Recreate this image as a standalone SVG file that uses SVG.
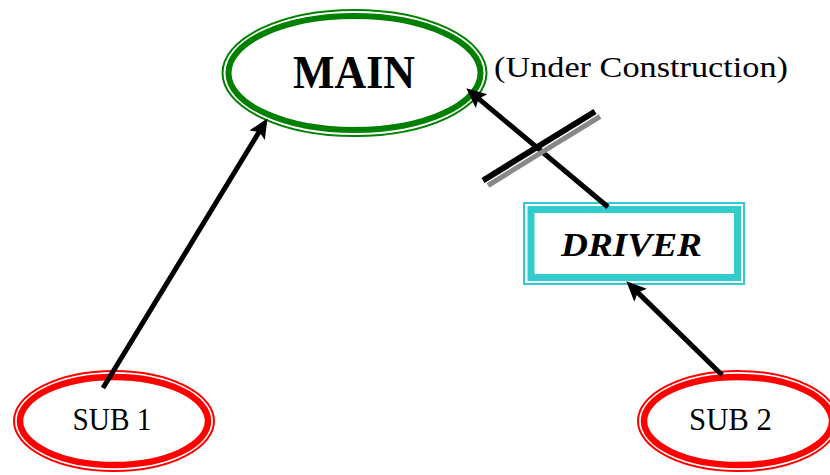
<svg xmlns="http://www.w3.org/2000/svg" width="830" height="475" viewBox="0 0 830 475">
<style>
.txt{font-family:"Liberation Serif","Times New Roman",serif;fill:#000}
.green{fill:none;stroke:#008000}
.red{fill:none;stroke:#ff0000}
.cyan{fill:none;stroke:#33cccc}
.conn{stroke:#000;stroke-width:5;fill:none;marker-end:url(#arrow)}
</style>
<defs>
<marker id="arrow" markerUnits="userSpaceOnUse" markerWidth="22" markerHeight="20" refX="7" refY="9" orient="auto" viewBox="0 0 22 18">
<path d="M0,0 L20,9 L0,18 L4,9 z" fill="#000"/>
</marker>
</defs>
<rect width="830" height="475" fill="#fff"/>
<g id="main">
<ellipse class="green" cx="354.5" cy="73" rx="132" ry="63" stroke-width="2"/>
<ellipse class="green" cx="354.5" cy="73" rx="126" ry="57" stroke-width="6"/>
<text class="txt" x="293" y="88" font-size="47" font-weight="bold" textLength="122" lengthAdjust="spacingAndGlyphs">MAIN</text>
</g>
<text class="txt" x="494" y="77" font-size="30" textLength="294" lengthAdjust="spacingAndGlyphs">(Under Construction)</text>
<g id="driver">
<rect class="cyan" x="524" y="203" width="220" height="81" stroke-width="2"/>
<rect class="cyan" x="531" y="209.5" width="206.5" height="68" stroke-width="7"/>
<text class="txt" x="561" y="256" font-size="34" font-weight="bold" font-style="italic" textLength="141" lengthAdjust="spacingAndGlyphs">DRIVER</text>
</g>
<g id="sub1">
<ellipse class="red" cx="114" cy="421" rx="100" ry="50" stroke-width="2"/>
<ellipse class="red" cx="114" cy="421" rx="94" ry="44" stroke-width="6.5"/>
<text class="txt" x="72.5" y="429.5" font-size="32" textLength="79" lengthAdjust="spacingAndGlyphs">SUB 1</text>
</g>
<g id="sub2">
<ellipse class="red" cx="738" cy="421" rx="100" ry="50" stroke-width="2"/>
<ellipse class="red" cx="738" cy="421" rx="94" ry="44" stroke-width="6.5"/>
<text class="txt" x="689" y="429.5" font-size="32" textLength="83" lengthAdjust="spacingAndGlyphs">SUB 2</text>
</g>
<g id="connectors">
<line class="conn" x1="103" y1="388" x2="260.75" y2="129.25"/>
<line class="conn" x1="608" y1="207" x2="476.2" y2="96.7"/>
<line class="conn" x1="722" y1="375" x2="635.6" y2="290.4"/>
</g>
<g id="construction-mark">
<line x1="488" y1="185.5" x2="600" y2="116.5" stroke="#888" stroke-width="5"/>
<line x1="483" y1="180.5" x2="595" y2="111.5" stroke="#000" stroke-width="6"/>
</g>
</svg>
